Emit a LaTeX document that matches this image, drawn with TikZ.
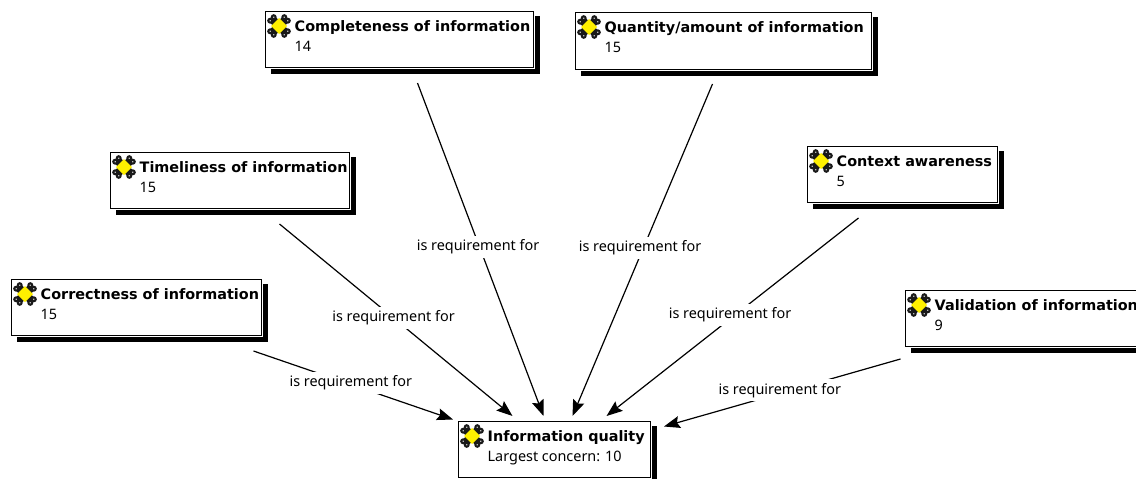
\documentclass[tikz,border=0pt]{standalone}
\usepackage{fontspec}
\setmainfont{Noto Sans}[BoldFont={DejaVu Sans Bold}]
\usetikzlibrary{arrows.meta}
\definecolor{iconyellow}{RGB}{255,240,0}
\definecolor{icondark}{RGB}{25,25,25}
\definecolor{icongrey}{RGB}{185,185,185}
\tikzset{
  conceptbox/.style={draw=black,line width=1pt,fill=white,anchor=north west,inner sep=0pt},
  titletext/.style={anchor=base west,inner sep=0pt,font=\fontsize{14.4pt}{16pt}\selectfont\bfseries},
  subtext/.style={anchor=base west,inner sep=0pt,font=\fontsize{14.4pt}{16pt}\selectfont},
  conn/.style={draw=black,line width=1.2pt,-{Stealth[length=16pt,width=12pt,inset=2.5pt]}},
  lbl/.style={fill=white,inner sep=0pt,minimum width=124pt,minimum height=22pt,font=\fontsize{14.4pt}{16pt}\selectfont,xshift=-2.5pt,yshift=2.5pt},
}
\newcommand{\concept}[7]{%
  % name, x, y, w, h, title, sub
  \begin{scope}[shift={(#2,#3)}]
    \fill[black] (#4+2,5) rectangle (#4+7,#5+7);
    \fill[black] (6,#5+2) rectangle (#4+7,#5+7);
    \node[conceptbox,minimum width=#4pt,minimum height=#5pt] (#1) at (0,0) {};
    \foreach \a in {45,135,225,315}{
      \begin{scope}[shift={(14,15)},rotate=\a]
        \fill[icondark] (0,-4) rectangle (10,4);
        \fill[icondark] (10,2.5) circle (3);
        \fill[icondark] (10,-2.5) circle (3);
        \fill[icongrey] (10,2.5) circle (.9);
        \fill[icongrey] (10,-2.5) circle (.9);
      \end{scope}
    }
    \fill[iconyellow] (14,7) -- (22,15) -- (14,23) -- (6,15) -- cycle;
    \node[titletext] (#1-title) at (29.5,20) {#6};
    \node[subtext] (#1-sub) at (29.5,40) {#7};
  \end{scope}%
}
\begin{document}
\begin{tikzpicture}[x=1pt,y=-1pt]
\clip (0,0) rectangle (1136,479);
\fill[white] (0,0) rectangle (1136,479);
\concept{comp}{265}{11}{268}{56}{Completeness of information}{14}
\concept{quan}{575}{12}{296}{57}{Quantity/amount of information}{15}
\concept{time}{110}{152}{239}{56}{Timeliness of information}{15}
\concept{cont}{807}{146}{190}{56}{Context awareness}{5}
\concept{corr}{11}{279}{250}{56}{Correctness of information}{15}
\concept{vali}{905}{290}{235}{56}{Validation of information}{9}
\concept{iq}{458}{421}{192}{56}{Information quality}{Largest concern: 10}
\draw[conn] ([shift={(117,15)}]corr.south) -- node[lbl,midway] (l1) {is requirement for} ([shift={(-5,-30)}]iq.west);
\draw[conn] ([shift={(49.5,15)}]time.south) -- node[lbl,midway] (l2) {is requirement for} ([shift={(-42,-5)}]iq.north);
\draw[conn] ([shift={(18,15)}]comp.south) -- node[lbl,midway] (l3) {is requirement for} ([shift={(-11,-5)}]iq.north);
\draw[conn] ([shift={(-11,14)}]quan.south) -- node[lbl,midway] (l4) {is requirement for} ([shift={(18,-5)}]iq.north);
\draw[conn] ([shift={(-44,15)}]cont.south) -- node[lbl,midway] (l5) {is requirement for} ([shift={(52,-5)}]iq.north);
\draw[conn] ([shift={(-122.5,12)}]vali.south) -- node[lbl,midway] (l6) {is requirement for} ([shift={(13,-23)}]iq.east);
\end{tikzpicture}
\end{document}
